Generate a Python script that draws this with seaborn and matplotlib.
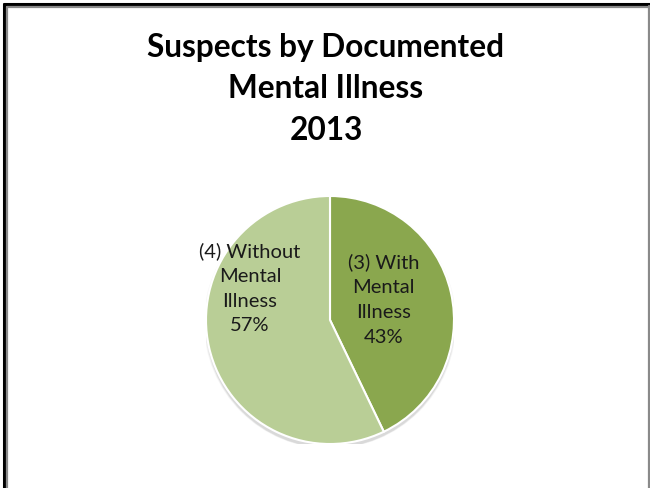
import matplotlib
matplotlib.use("Agg")
import matplotlib.pyplot as plt
import seaborn as sns
from matplotlib.lines import Line2D
from matplotlib.patches import Circle

# Data
categories = ["With\nMental\nIllness", "Without\nMental\nIllness"]
counts = [3, 4]
colors = ["#8AA74E", "#B9CE96"]
title_lines = ["Suspects by Documented", "Mental Illness", "2013"]

sns.set_theme(style="white")
plt.rcParams["font.family"] = ["Lato", "DejaVu Sans"]

W, H = 650, 488
fig = plt.figure(figsize=(W / 100, H / 100), dpi=100)
fig.patch.set_facecolor("white")

# Pie axes: centre (330, 320) px, radius 124 px
cx, cy, r = 330, 320, 124
ax = fig.add_axes([(cx - r) / W, (H - cy - r) / H, 2 * r / W, 2 * r / H])
ax.set_aspect("equal")
ax.axis("off")

# soft shadow under the pie
for i, a in enumerate([0.03, 0.03, 0.04, 0.05]):
    ax.add_patch(Circle((0, -0.02 - 0.004 * i), 1.0 + 0.006 * (3 - i),
                        color="black", alpha=a, zorder=0, lw=0))

wedges, _ = ax.pie(counts, colors=colors, startangle=90, counterclock=False,
                   radius=1.0, wedgeprops=dict(edgecolor="white", linewidth=1.5))
for w in wedges:
    w.set_zorder(2)
ax.set_xlim(-1.0, 1.0)
ax.set_ylim(-1.0, 1.0)

total = sum(counts)
label_pos = [(0.43, 0.165), (-0.645, 0.255)]
for (x, y), n, cat in zip(label_pos, counts, categories):
    pct = round(100 * n / total)
    ax.text(x, y, f"({n}) {cat}\n{pct}%", ha="center", va="center",
            fontsize=14.5, color="#1a1a1a", linespacing=1.55, zorder=3)

# Title
for yy, t in zip([47, 88, 130], title_lines):
    fig.text(326 / W, 1 - yy / H, t, ha="center", va="center",
             fontsize=22.8, fontweight="bold", color="black")

# Chart frame
def fline(x0, y0, x1, y1, c, lw):
    fig.add_artist(Line2D([x0 / W, x1 / W], [1 - y0 / H, 1 - y1 / H],
                          color=c, lw=lw, transform=fig.transFigure))

fline(3.5, 3.5, 3.5, H, "black", 2.2)
fline(3.5, 3.5, W, 3.5, "black", 2.2)
fline(6.5, 6.5, 6.5, H, "#8a8a8a", 1.6)
fline(6.5, 6.5, 647.5, 6.5, "#8a8a8a", 1.6)
fline(648.5, 6, 648.5, H, "#8a8a8a", 1.6)

fig.savefig("out.png", dpi=100, facecolor="white")
